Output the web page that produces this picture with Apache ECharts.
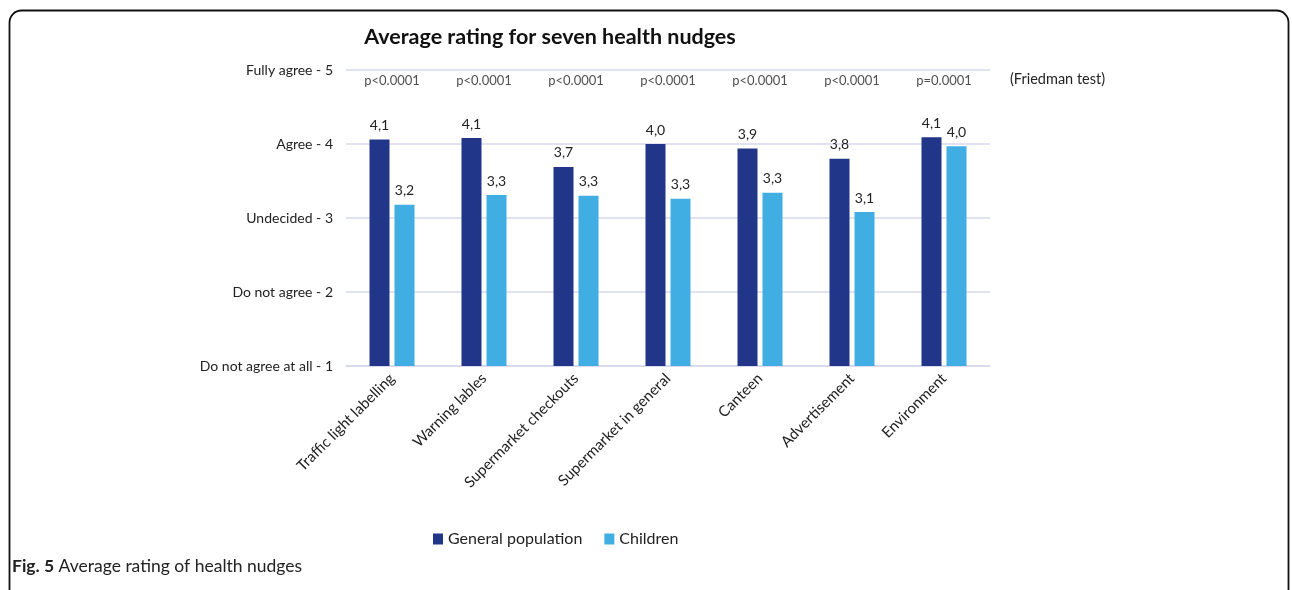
<!DOCTYPE html>
<html>
<head>
<meta charset="utf-8">
<script src="https://cdn.jsdelivr.net/npm/echarts@6/dist/echarts.min.js"></script>
<style>
  html, body { margin: 0; padding: 0; background: #fff; }
  #chart { width: 1292px; height: 590px; }
</style>
</head>
<body>
<div id="chart"></div>
<script>
// Nudge categories along the x axis
const categories = [
  'Traffic light labelling',
  'Warning lables',
  'Supermarket checkouts',
  'Supermarket in general',
  'Canteen',
  'Advertisement',
  'Environment'
];

// Mean ratings (1–5 scale)
const generalPopulation = [4.06, 4.08, 3.69, 4.00, 3.94, 3.80, 4.09];
const children          = [3.18, 3.31, 3.30, 3.26, 3.34, 3.08, 3.97];

// Friedman test results shown above each group
const pValues = ['p<0.0001', 'p<0.0001', 'p<0.0001', 'p<0.0001', 'p<0.0001', 'p<0.0001', 'p=0.0001'];

// Y axis tick labels (value -> text)
const yTickValues = [1, 2, 3, 4, 5];
const yTickLabels = ['Do not agree at all - 1', 'Do not agree - 2', 'Undecided - 3', 'Agree - 4', 'Fully agree - 5'];

const FONT = 'Lato, "Open Sans", sans-serif';
const TEXT = '#222';
const GRID_LINE = '#d6d8ec';

const fmt = v => v.toFixed(1).replace('.', ',');

const chart = echarts.init(document.getElementById('chart'), null, { renderer: 'canvas' });

chart.setOption({
  animation: false,
  backgroundColor: '#fff',
  textStyle: { fontFamily: FONT },
  title: {
    text: 'Average rating for seven health nudges',
    left: 545,
    top: 21,
    textAlign: 'center',
    textStyle: { fontFamily: FONT, fontSize: 21.5, fontWeight: 'bold', color: '#111' }
  },
  legend: {
    data: ['General population', 'Children'],
    left: 428,
    top: 526,
    itemWidth: 10,
    itemHeight: 11,
    itemGap: 22,
    icon: 'rect',
    textStyle: { fontFamily: FONT, fontSize: 16, color: TEXT }
  },
  grid: { left: 346, right: 302, top: 70, bottom: 224, containLabel: false },
  xAxis: {
    type: 'category',
    data: categories,
    axisTick: { show: false },
    axisLine: { lineStyle: { color: GRID_LINE, width: 1.5 } },
    axisLabel: {
      rotate: 45,
      interval: 0,
      margin: 10,
      fontFamily: FONT,
      fontSize: 15,
      color: TEXT
    }
  },
  yAxis: {
    type: 'value',
    min: 1,
    max: 5,
    interval: 1,
    axisLine: { show: false },
    axisTick: { show: false },
    splitLine: { lineStyle: { color: GRID_LINE, width: 1.5 } },
    axisLabel: {
      margin: 13,
      fontFamily: FONT,
      fontSize: 14,
      color: TEXT,
      formatter: v => yTickLabels[yTickValues.indexOf(v)] || ''
    }
  },
  series: [
    {
      name: 'General population',
      type: 'bar',
      data: generalPopulation,
      barWidth: 20,
      barGap: '25%',
      itemStyle: { color: '#213589' },
      label: {
        show: true,
        position: 'top',
        distance: 7,
        fontFamily: FONT,
        fontSize: 14,
        color: TEXT,
        formatter: p => fmt(p.value)
      }
    },
    {
      name: 'Children',
      type: 'bar',
      data: children,
      barWidth: 20,
      itemStyle: { color: '#41aee3' },
      label: {
        show: true,
        position: 'top',
        distance: 7,
        fontFamily: FONT,
        fontSize: 14,
        color: TEXT,
        formatter: p => fmt(p.value)
      }
    },
    {
      name: 'Friedman',
      type: 'scatter',
      data: categories.map((c, i) => [c, 5]),
      symbolSize: 0,
      silent: true,
      label: {
        show: true,
        position: 'bottom',
        distance: 4,
        fontFamily: FONT,
        fontSize: 13,
        color: TEXT,
        formatter: p => pValues[p.dataIndex]
      }
    }
  ],
  graphic: [
    {
      type: 'text',
      left: 1010,
      top: 72,
      style: { text: '(Friedman test)', fontFamily: FONT, fontSize: 14.5, fill: TEXT }
    },
    {
      type: 'rect',
      shape: { x: 9.5, y: 10.5, width: 1279, height: 620, r: 12 },
      style: { fill: 'none', stroke: '#111', lineWidth: 1.8 },
      silent: true
    },
    {
      type: 'text',
      left: 12,
      top: 557,
      style: {
        text: '{b|Fig. 5} Average rating of health nudges',
        fontFamily: FONT,
        fontSize: 17.5,
        fill: '#222',
        rich: {
          b: { fontFamily: FONT, fontWeight: 'bold', fontSize: 17.5, fill: '#222' }
        }
      }
    }
  ]
});
</script>
</body>
</html>
